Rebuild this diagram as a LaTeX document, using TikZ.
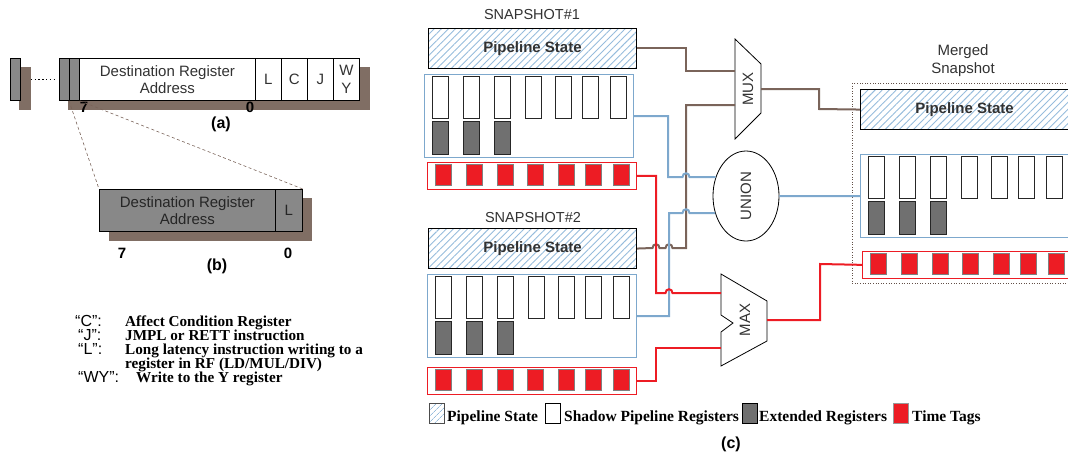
\documentclass[tikz,border=0pt]{standalone}
\usepackage{fontspec}
\setmainfont{Liberation Serif}
\setsansfont{Liberation Sans}
\usetikzlibrary{patterns.meta,shapes.geometric}

\definecolor{wirebrown}{RGB}{122,100,90}
\definecolor{shadowbrown}{RGB}{128,110,100}
\definecolor{wireblue}{RGB}{125,168,205}
\definecolor{tagred}{RGB}{237,28,36}
\definecolor{reggray}{RGB}{112,112,112}
\definecolor{fieldgray}{RGB}{136,136,136}
\definecolor{hatchblue}{RGB}{150,188,220}
\definecolor{inkgray}{RGB}{50,50,50}

\tikzset{
  sans/.style={font=\sffamily\fontsize{15}{17.5}\selectfont},
  field/.style={draw=black, line width=0.8pt, fill=white, inner sep=0pt,
    anchor=north west, minimum height=42, text=inkgray, sans, align=center},
  bitcell/.style={draw=black, line width=0.8pt, fill=fieldgray, inner sep=0pt,
    anchor=north west, minimum width=10, minimum height=42},
  bitnum/.style={font=\sffamily\bfseries\fontsize{15}{15}\selectfont, inner sep=0pt},
  sublabel/.style={font=\sffamily\bfseries\fontsize{16}{16}\selectfont, inner sep=0pt},
  zoomline/.style={draw=wirebrown, dash pattern=on 3pt off 2.5pt, line width=0.6pt},
  snaplabel/.style={font=\sffamily\fontsize{14.5}{18}\selectfont, text=inkgray, align=center, inner sep=0pt},
  psbox/.style={draw=black, line width=1.1pt, anchor=north west, minimum width=208,
    minimum height=40, inner sep=0pt,
    pattern={Lines[angle=45,distance=5pt,line width=0.9pt]}, pattern color=hatchblue,
    font=\sffamily\bfseries\fontsize{15}{15}\selectfont, text=inkgray},
  bankbox/.style={draw=wireblue, line width=1.2pt, anchor=north west,
    minimum width=209, minimum height=83, inner sep=0pt},
  shadowreg/.style={draw=black!85, line width=1pt, fill=white, anchor=north west,
    minimum width=16, minimum height=41.5, inner sep=0pt},
  extreg/.style={shadowreg, fill=reggray, minimum height=33.5},
  tagbox/.style={draw=tagred, line width=1.2pt, anchor=north west,
    minimum width=209, minimum height=26.5, inner sep=0pt},
  tagcell/.style={draw=black!50, line width=0.6pt, fill=tagred, anchor=north west,
    minimum width=16, minimum height=21, inner sep=0pt},
  wire/.style={line width=2pt},
  brownwire/.style={wire, draw=wirebrown},
  bluewire/.style={wire, draw=wireblue},
  redwire/.style={wire, draw=tagred},
  gate/.style={draw=black, line width=0.8pt, fill=white},
  gatelabel/.style={font=\sffamily\fontsize{15}{15}\selectfont, text=inkgray, rotate=90, inner sep=0pt},
  keyline/.style={anchor=base west, inner sep=0pt, text height=10pt, text depth=2pt},
  keylabel/.style={keyline, font=\sffamily\fontsize{16}{16}\selectfont},
  keytext/.style={keyline, font=\rmfamily\bfseries\fontsize{15.2}{15.2}\selectfont},
  legendtext/.style={font=\rmfamily\bfseries\fontsize{15.5}{15.5}\selectfont, anchor=base west, inner sep=0pt},
  legendkey/.style={anchor=north west, minimum width=15, minimum height=20, inner sep=0pt, line width=1pt},
}

% register bank: blue frame with seven shadow registers and three extended ones
\newcommand{\regbank}[3]{%
  \node[bankbox] (#1) at (#2,#3) {};
  \foreach \o [count=\i] in {7.5,38.5,69.5,100.5,131,157.5,185.5}
    \node[shadowreg] (#1-s\i) at (#2+\o,#3+2) {};
  \foreach \o [count=\i] in {7.5,38.5,69.5}
    \node[extreg] (#1-e\i) at (#2+\o,#3+46.5) {};
}
% time-tag bank: red frame with seven tags
\newcommand{\tagbank}[3]{%
  \node[tagbox] (#1) at (#2,#3) {};
  \foreach \o [count=\i] in {7.5,38.5,69.5,100,131,157.5,185.5}
    \node[tagcell] (#1-t\i) at (#2+\o,#3+2.3) {};
}
% small bump where a wire crosses over another one
\newcommand{\wirehop}[2]{-- (#1-3.5,#2) .. controls (#1-3.5,#2-5) and (#1+3.5,#2-5) .. (#1+3.5,#2)}

\begin{document}
\begin{tikzpicture}[x=1pt,y=-1pt]
\useasboundingbox (0,0) rectangle (1068,456);
\clip (0,0) rectangle (1068,456);

% ---------------- (a) register descriptor ----------------
\fill[shadowbrown] (19,67) rectangle (31,110);
\fill[shadowbrown] (68,67) rectangle (370,110);
\node[bitcell] (g0) at (10,58) {};
\node[bitcell] (g1) at (59,58) {};
\node[bitcell] (g2) at (69,58) {};
\draw[line width=1.4pt, dash pattern=on 1.4pt off 2.4pt] ([xshift=10pt]g0.east) -- ([xshift=-5pt]g1.west);
\node[field, minimum width=176] (dest) at (79,58) {Destination Register\\Address};
\node[field, minimum width=26] (fL) at (255,58) {L};
\node[field, minimum width=26] (fC) at (281,58) {C};
\node[field, minimum width=26] (fJ) at (307,58) {J};
\node[field, minimum width=26] (fWY) at (333,58) {W\\Y};
\node[bitnum] (a7) at (84,107) {7};
\node[bitnum] (a0) at (250,107) {0};
\node[sublabel] (capa) at (221,124) {(a)};

% ---------------- (b) stored descriptor ----------------
\fill[shadowbrown] (109,198) rectangle (312,241);
\node[field, fill=fieldgray, text=black!85, minimum width=176] (bdest) at (99,189) {Destination Register\\Address};
\node[field, fill=fieldgray, text=black!85, minimum width=27] (bL) at (275,189) {L};
\draw[zoomline] (g2.south west) -- (bdest.north west);
\draw[zoomline] (g2.south east) -- (bL.north east);
\node[bitnum] (b7) at (122,253) {7};
\node[bitnum] (b0) at (288,253) {0};
\node[sublabel] (capb) at (217,266) {(b)};

% ---------------- key ----------------
\node[keylabel] (kC) at (75,326) {“C”:};
\node[keytext] (tC) at (125,326) {Affect Condition Register};
\node[keylabel] (kJ) at (78,340) {“J”:};
\node[keytext] (tJ) at (125,340) {JMPL or RETT instruction};
\node[keylabel] (kL) at (78,354) {“L”:};
\node[keytext] (tL) at (125,354) {Long latency instruction writing to a};
\node[keytext] (tL2) at (125,368) {register in RF (LD/MUL/DIV)};
\node[keylabel] (kWY) at (78,382) {“WY”:};
\node[keytext] (tWY) at (136,382) {Write to the Y register};

% ---------------- (c) snapshots ----------------
\node[snaplabel] (snap1) at (532,15) {SNAPSHOT\#1};
\node[psbox] (ps1) at (428,28) {Pipeline State};
\regbank{bank1}{424}{74}
\tagbank{tags1}{427}{162}

\node[snaplabel] (snap2) at (533,218) {SNAPSHOT\#2};
\node[psbox] (ps2) at (428,228) {Pipeline State};
\regbank{bank2}{427}{274}
\tagbank{tags2}{427}{367}

% merged snapshot
\draw[draw=wirebrown!80!black, line width=0.8pt, dash pattern=on 1pt off 1.6pt] (852,83) rectangle (1110,283);
\node[snaplabel, font=\sffamily\fontsize{15}{18}\selectfont] (mlabel) at (963,61) {Merged\\Snapshot};
\node[psbox] (mps) at (860,89) {Pipeline State};
\regbank{mbank}{860}{154}
\tagbank{mtags}{862}{251}

% MUX
\draw[gate] (735,39) -- (761,64) -- (761,113) -- (735,139) -- cycle;
\node[gatelabel] (mux) at (748,89) {MUX};
\coordinate (mux-in1) at (735,71);
\coordinate (mux-in2) at (735,105);
\coordinate (mux-out) at (761,89);

% UNION
\node[gate, ellipse, minimum width=66, minimum height=90, inner sep=0pt] (union) at (746,196) {};
\node[gatelabel] (unionlabel) at (union.center) {UNION};

% MAX
\draw[gate] (721,274) -- (767,301) -- (767,341) -- (721,366) -- (721,332) -- (733,323) -- (721,315) -- cycle;
\node[gatelabel] (max) at (745,320) {MAX};
\coordinate (max-in1) at (721,293);
\coordinate (max-in2) at (721,348);
\coordinate (max-out) at (767,320);

% wires: pipeline state
\draw[brownwire] (ps1.east) -| (686,71) -- (mux-in1);
\draw[brownwire] (ps2.east) \wirehop{656}{248} \wirehop{669}{248} -- (686,248) -- (686,105) -- (mux-in2);
\draw[brownwire] (mux-out) -| (819,109) -- (mps.west);

% wires: shadow registers
\draw[bluewire] (bank1.east) -| (668,177) \wirehop{686}{177} -- (union.148);
\draw[bluewire] (bank2.east) -| (669,213) \wirehop{686}{213} -- (union.209);
\draw[bluewire] (union.east) -- (mbank.west);

% wires: time tags
\draw[redwire] (tags1.east) -| (656,293) \wirehop{669}{293} -- (max-in1);
\draw[redwire] (tags2.east) -| (656,348) -- (max-in2);
\draw[redwire] (max-out) -| (820,264) -- (mtags.west);

% ---------------- legend ----------------
\node[legendkey, draw=black!70, pattern={Lines[angle=45,distance=4pt,line width=0.8pt]}, pattern color=hatchblue] (lk1) at (429,403) {};
\node[legendtext] (lt1) at (447,421) {Pipeline State};
\node[legendkey, draw=black, fill=white] (lk2) at (545,403) {};
\node[legendtext] (lt2) at (564,421) {Shadow Pipeline Registers};
\node[legendkey, draw=black, fill=reggray] (lk3) at (742,403) {};
\node[legendtext] (lt3) at (759,421) {Extended Registers};
\node[legendkey, draw=black!40, fill=tagred] (lk4) at (893,403) {};
\node[legendtext] (lt4) at (912,421) {Time Tags};
\node[sublabel] (capc) at (731,444) {(c)};
\end{tikzpicture}
\end{document}
